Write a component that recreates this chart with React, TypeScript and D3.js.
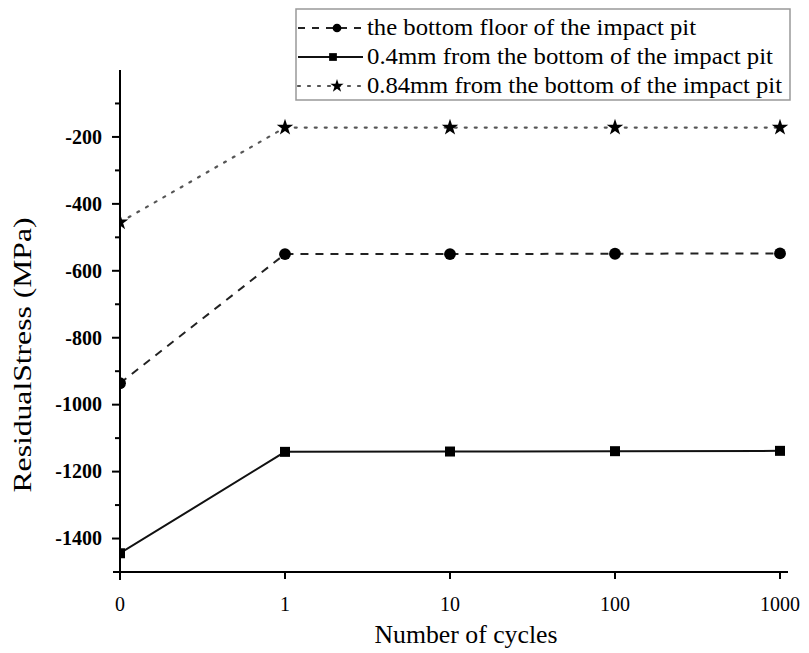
import React from "react";
import * as d3 from "d3";

// Residual stress at three depths vs. number of impact cycles
const cycles = ["0", "1", "10", "100", "1000"];
const bottomFloor = [-936, -550, -550, -549, -548];
const depth04mm = [-1444, -1141, -1140, -1139, -1138];
const depth084mm = [-455, -172, -172, -172, -172];

const seriesLabels = [
  "the bottom floor of the impact pit",
  "0.4mm from the bottom of the impact pit",
  "0.84mm from the bottom of the impact pit",
];
const majorTicks = [-200, -400, -600, -800, -1000, -1200, -1400];
const minorTicks = [-100, -300, -500, -700, -900, -1100, -1300];

const W = 809;
const H = 653;
const FONT = "'Liberation Serif', 'Times New Roman', serif";

export default function App() {
  const x = d3.scalePoint<string>().domain(cycles).range([120, 780]);
  const y = d3.scaleLinear().domain([-1500, 0]).range([572, 70]);

  const line = d3
    .line<number>()
    .x((_, i) => x(cycles[i]) as number)
    .y((d) => y(d));

  const series = [
    { values: bottomFloor, dash: "8,7", legendDash: "7,7", color: "#222", symbol: d3.symbolCircle, size: 110, legendSize: 60, width: 2 },
    { values: depth04mm, dash: "none", legendDash: "none", color: "#111", symbol: d3.symbolSquare, size: 100, legendSize: 60, width: 2 },
    { values: depth084mm, dash: "2,8", legendDash: "2,8", color: "#555", symbol: d3.symbolStar, size: 85, legendSize: 55, width: 2.2 },
  ];

  const legendTextLengths = [329, 406, 415];
  const legendRows = [28, 57, 86];

  return (
    <svg
      width={W}
      height={H}
      style={{ position: "absolute", left: 0, top: 0, background: "#fff" }}
      fontFamily={FONT}
    >
      <defs>
        <clipPath id="plotArea">
          <rect x={120} y={40} width={690} height={540} />
        </clipPath>
      </defs>

      {/* series lines and markers */}
      <g clipPath="url(#plotArea)">
        {series.map((s, si) => (
          <g key={si}>
            <path
              d={line(s.values) || ""}
              fill="none"
              stroke={s.color}
              strokeWidth={s.width}
              strokeDasharray={s.dash}
              strokeLinecap={s.dash === "2,8" ? "round" : "butt"}
            />
            {s.values.map((v, i) => (
              <path
                key={i}
                transform={`translate(${x(cycles[i])},${y(v)})`}
                d={d3.symbol().type(s.symbol).size(s.size)() || ""}
                fill="#000"
              />
            ))}
          </g>
        ))}
      </g>

      {/* y axis */}
      <line x1={120} x2={120} y1={70} y2={580} stroke="#000" strokeWidth={2} />
      {majorTicks.map((t) => (
        <g key={t}>
          <line x1={112} x2={120} y1={y(t)} y2={y(t)} stroke="#000" strokeWidth={2} />
          <text x={102} y={y(t)} dy="0.34em" textAnchor="end" fontSize={20} fontWeight="bold">
            {t}
          </text>
        </g>
      ))}
      {minorTicks.map((t) => (
        <line key={t} x1={115} x2={120} y1={y(t)} y2={y(t)} stroke="#000" strokeWidth={2} />
      ))}

      {/* x axis */}
      <line x1={113} x2={788} y1={572} y2={572} stroke="#000" strokeWidth={2} />
      {cycles.map((c) => (
        <g key={c}>
          <line x1={x(c)} x2={x(c)} y1={572} y2={579} stroke="#000" strokeWidth={2} />
          <text x={x(c)} y={611} textAnchor="middle" fontSize={20}>
            {c}
          </text>
        </g>
      ))}

      {/* axis titles */}
      <text x={466} y={643} textAnchor="middle" fontSize={25} textLength={183} lengthAdjust="spacingAndGlyphs">
        Number of cycles
      </text>
      <text
        transform="translate(31,355) rotate(-90)"
        textAnchor="middle"
        fontSize={25}
        textLength={275}
        lengthAdjust="spacingAndGlyphs"
      >
        ResidualStress (MPa)
      </text>

      {/* legend */}
      <rect x={296} y={9} width={494} height={91} fill="#fff" stroke="#999" strokeWidth={1.5} />
      {series.map((s, si) => (
        <g key={si}>
          <line
            x1={298}
            x2={363}
            y1={legendRows[si]}
            y2={legendRows[si]}
            stroke={s.color}
            strokeWidth={s.width}
            strokeDasharray={s.legendDash}
            strokeLinecap={s.dash === "2,8" ? "round" : "butt"}
          />
          <path
            transform={`translate(${si === 1 ? 333 : 337},${legendRows[si]})`}
            d={d3.symbol().type(s.symbol).size(s.legendSize)() || ""}
            fill="#000"
          />
          <text
            x={367}
            y={legendRows[si]}
            dy="0.3em"
            fontSize={24}
            textLength={legendTextLengths[si]}
            lengthAdjust="spacingAndGlyphs"
          >
            {seriesLabels[si]}
          </text>
        </g>
      ))}
    </svg>
  );
}
